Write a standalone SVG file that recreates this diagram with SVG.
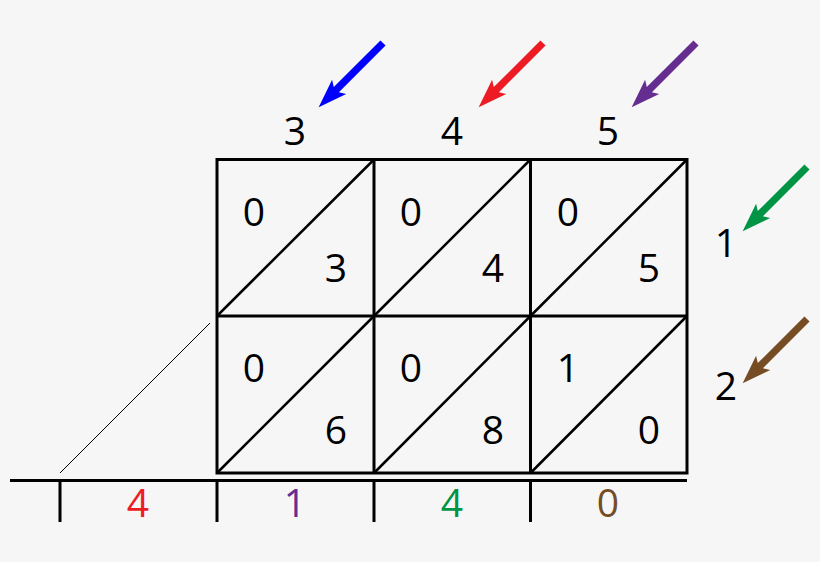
<svg xmlns="http://www.w3.org/2000/svg" xmlns:xlink="http://www.w3.org/1999/xlink" width="820" height="562" viewBox="0 0 820 562">
<style>
.g{fill:none;stroke:#000;stroke-width:3}
.d{fill:none;stroke:#000;stroke-width:2.5}
.t{font-family:"Open Sans","Liberation Sans",sans-serif;font-size:39px;text-anchor:middle;fill:#000}
.thin{fill:none;stroke:#000;stroke-width:1}
</style>
<defs>
<path id="arr" d="M0,-3.6 L66,-3.6 L62,-10 L91,0 L62,10 L66,3.6 L0,3.6 Z"/>
</defs>
<rect width="820" height="562" fill="#f6f6f6"/>
<g id="connectors">
<use xlink:href="#arr" fill="#0000ff" transform="translate(383,43) rotate(135)"/>
<use xlink:href="#arr" fill="#ed1c24" transform="translate(543,43) rotate(135)"/>
<use xlink:href="#arr" fill="#662d91" transform="translate(696,43) rotate(135)"/>
<use xlink:href="#arr" fill="#009444" transform="translate(807,167) rotate(135)"/>
<use xlink:href="#arr" fill="#754c24" transform="translate(807,319) rotate(135)"/>
</g>
<g id="grid">
<rect class="g" x="217" y="159.5" width="470" height="313.5"/>
<line class="g" x1="374" y1="159.5" x2="374" y2="473"/>
<line class="g" x1="530.5" y1="159.5" x2="530.5" y2="473"/>
<line class="g" x1="217" y1="316" x2="687" y2="316"/>
<line class="d" x1="217" y1="316" x2="374" y2="159.5"/>
<line class="d" x1="374" y1="316" x2="530.5" y2="159.5"/>
<line class="d" x1="530.5" y1="316" x2="687" y2="159.5"/>
<line class="d" x1="217" y1="473" x2="374" y2="316"/>
<line class="d" x1="374" y1="473" x2="530.5" y2="316"/>
<line class="d" x1="530.5" y1="473" x2="687" y2="316"/>
<line class="thin" x1="60" y1="473" x2="210" y2="323"/>
</g>
<g id="baseline">
<line class="g" x1="10" y1="480.5" x2="687" y2="480.5"/>
<line class="g" x1="60" y1="480.5" x2="60" y2="522"/>
<line class="g" x1="217" y1="480.5" x2="217" y2="522"/>
<line class="g" x1="374" y1="480.5" x2="374" y2="522"/>
<line class="g" x1="530.5" y1="480.5" x2="530.5" y2="522"/>
</g>
<g id="top-labels">
<text class="t" x="295" y="145">3</text>
<text class="t" x="452" y="145">4</text>
<text class="t" x="608" y="145">5</text>
</g>
<g id="side-labels">
<text class="t" x="726" y="257">1</text>
<text class="t" x="726" y="400">2</text>
</g>
<g id="cells">
<text class="t" x="254" y="226">0</text>
<text class="t" x="336" y="282">3</text>
<text class="t" x="411" y="226">0</text>
<text class="t" x="493" y="282">4</text>
<text class="t" x="568" y="226">0</text>
<text class="t" x="649" y="282">5</text>
<text class="t" x="254" y="382">0</text>
<text class="t" x="336" y="444">6</text>
<text class="t" x="411" y="382">0</text>
<text class="t" x="493" y="444">8</text>
<text class="t" x="568" y="382">1</text>
<text class="t" x="649" y="444">0</text>
</g>
<g id="result">
<text class="t" x="138" y="517" fill="#ed1c24" style="fill:#ed1c24">4</text>
<text class="t" x="295" y="517" style="fill:#662d91">1</text>
<text class="t" x="452" y="517" style="fill:#009444">4</text>
<text class="t" x="608" y="517" style="fill:#754c24">0</text>
</g>
</svg>
